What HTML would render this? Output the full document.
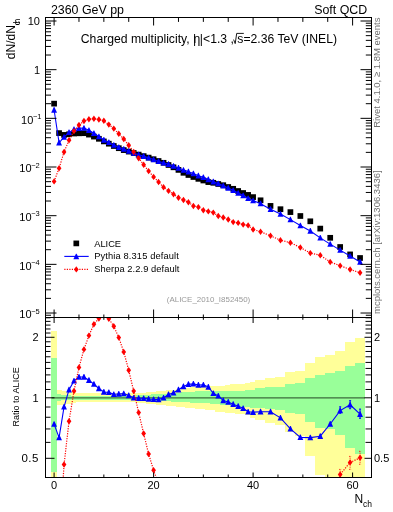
<!DOCTYPE html>
<html><head><meta charset="utf-8"><style>html,body{margin:0;padding:0;background:#fff;width:393px;height:512px;overflow:hidden;position:relative}</style></head>
<body>
<svg width="393" height="512" viewBox="0 0 393 512" style="position:absolute;left:0;top:0;will-change:transform">
<defs><clipPath id="cu"><rect x="45.50" y="17.50" width="326.00" height="300.00"/></clipPath>
<clipPath id="cr"><rect x="45.50" y="317.50" width="326.00" height="160.00"/></clipPath></defs>
<g clip-path="url(#cr)" shape-rendering="crispEdges">
<rect x="51.00" y="331.00" width="6.00" height="149.00" fill="#ffff99"/>
<rect x="51.00" y="358.00" width="6.00" height="113.60" fill="#99ff99"/>
<rect x="57.00" y="390.20" width="5.00" height="15.20" fill="#ffff99"/>
<rect x="57.00" y="394.20" width="5.00" height="6.70" fill="#99ff99"/>
<rect x="61.00" y="390.70" width="5.00" height="14.20" fill="#ffff99"/>
<rect x="61.00" y="394.80" width="5.00" height="5.60" fill="#99ff99"/>
<rect x="66.00" y="391.70" width="5.00" height="12.20" fill="#ffff99"/>
<rect x="66.00" y="395.30" width="5.00" height="4.50" fill="#99ff99"/>
<rect x="71.00" y="392.40" width="5.00" height="10.80" fill="#ffff99"/>
<rect x="71.00" y="395.50" width="5.00" height="4.30" fill="#99ff99"/>
<rect x="76.00" y="393.00" width="5.00" height="9.20" fill="#ffff99"/>
<rect x="76.00" y="395.50" width="5.00" height="4.20" fill="#99ff99"/>
<rect x="81.00" y="393.00" width="5.00" height="9.20" fill="#ffff99"/>
<rect x="81.00" y="395.50" width="5.00" height="4.20" fill="#99ff99"/>
<rect x="86.00" y="393.00" width="5.00" height="9.20" fill="#ffff99"/>
<rect x="86.00" y="395.50" width="5.00" height="4.20" fill="#99ff99"/>
<rect x="91.00" y="393.00" width="5.00" height="9.20" fill="#ffff99"/>
<rect x="91.00" y="395.50" width="5.00" height="4.20" fill="#99ff99"/>
<rect x="96.00" y="393.00" width="5.00" height="9.20" fill="#ffff99"/>
<rect x="96.00" y="395.50" width="5.00" height="4.20" fill="#99ff99"/>
<rect x="101.00" y="393.00" width="5.00" height="9.20" fill="#ffff99"/>
<rect x="101.00" y="395.50" width="5.00" height="4.20" fill="#99ff99"/>
<rect x="106.00" y="393.00" width="5.00" height="9.20" fill="#ffff99"/>
<rect x="106.00" y="395.50" width="5.00" height="4.20" fill="#99ff99"/>
<rect x="111.00" y="393.00" width="5.00" height="9.20" fill="#ffff99"/>
<rect x="111.00" y="395.50" width="5.00" height="4.20" fill="#99ff99"/>
<rect x="116.00" y="393.00" width="5.00" height="9.20" fill="#ffff99"/>
<rect x="116.00" y="395.50" width="5.00" height="4.20" fill="#99ff99"/>
<rect x="121.00" y="393.00" width="5.00" height="9.20" fill="#ffff99"/>
<rect x="121.00" y="395.50" width="5.00" height="4.20" fill="#99ff99"/>
<rect x="126.00" y="393.00" width="5.00" height="9.20" fill="#ffff99"/>
<rect x="126.00" y="395.50" width="5.00" height="4.20" fill="#99ff99"/>
<rect x="131.00" y="393.00" width="5.00" height="9.20" fill="#ffff99"/>
<rect x="131.00" y="395.50" width="5.00" height="4.20" fill="#99ff99"/>
<rect x="136.00" y="393.00" width="5.00" height="9.50" fill="#ffff99"/>
<rect x="136.00" y="395.00" width="5.00" height="5.10" fill="#99ff99"/>
<rect x="141.00" y="392.70" width="5.00" height="10.30" fill="#ffff99"/>
<rect x="141.00" y="394.80" width="5.00" height="5.50" fill="#99ff99"/>
<rect x="146.00" y="392.20" width="5.00" height="11.30" fill="#ffff99"/>
<rect x="146.00" y="394.60" width="5.00" height="5.90" fill="#99ff99"/>
<rect x="151.00" y="391.80" width="5.00" height="12.20" fill="#ffff99"/>
<rect x="151.00" y="394.30" width="5.00" height="6.50" fill="#99ff99"/>
<rect x="156.00" y="391.20" width="5.00" height="13.30" fill="#ffff99"/>
<rect x="156.00" y="394.00" width="5.00" height="7.00" fill="#99ff99"/>
<rect x="161.00" y="390.80" width="5.00" height="14.20" fill="#ffff99"/>
<rect x="161.00" y="393.80" width="5.00" height="7.40" fill="#99ff99"/>
<rect x="166.00" y="390.30" width="5.00" height="15.20" fill="#ffff99"/>
<rect x="166.00" y="393.60" width="5.00" height="7.70" fill="#99ff99"/>
<rect x="171.00" y="389.70" width="5.00" height="16.40" fill="#ffff99"/>
<rect x="171.00" y="393.10" width="5.00" height="8.40" fill="#99ff99"/>
<rect x="176.00" y="389.00" width="5.00" height="17.70" fill="#ffff99"/>
<rect x="176.00" y="392.60" width="5.00" height="9.10" fill="#99ff99"/>
<rect x="181.00" y="388.20" width="4.00" height="19.00" fill="#ffff99"/>
<rect x="181.00" y="392.10" width="4.00" height="9.90" fill="#99ff99"/>
<rect x="185.00" y="387.70" width="5.00" height="19.80" fill="#ffff99"/>
<rect x="185.00" y="391.80" width="5.00" height="10.50" fill="#99ff99"/>
<rect x="190.00" y="387.20" width="5.00" height="20.60" fill="#ffff99"/>
<rect x="190.00" y="391.50" width="5.00" height="11.10" fill="#99ff99"/>
<rect x="195.00" y="386.80" width="5.00" height="21.70" fill="#ffff99"/>
<rect x="195.00" y="391.40" width="5.00" height="11.40" fill="#99ff99"/>
<rect x="200.00" y="386.40" width="5.00" height="22.60" fill="#ffff99"/>
<rect x="200.00" y="391.30" width="5.00" height="11.70" fill="#99ff99"/>
<rect x="205.00" y="386.10" width="5.00" height="23.50" fill="#ffff99"/>
<rect x="205.00" y="391.30" width="5.00" height="12.00" fill="#99ff99"/>
<rect x="210.00" y="385.80" width="5.00" height="24.50" fill="#ffff99"/>
<rect x="210.00" y="391.30" width="5.00" height="12.20" fill="#99ff99"/>
<rect x="215.00" y="385.60" width="5.00" height="25.90" fill="#ffff99"/>
<rect x="215.00" y="391.20" width="5.00" height="12.70" fill="#99ff99"/>
<rect x="220.00" y="385.50" width="5.00" height="26.70" fill="#ffff99"/>
<rect x="220.00" y="391.20" width="5.00" height="13.30" fill="#99ff99"/>
<rect x="225.00" y="385.40" width="5.00" height="27.40" fill="#ffff99"/>
<rect x="225.00" y="391.20" width="5.00" height="14.00" fill="#99ff99"/>
<rect x="230.00" y="384.20" width="5.00" height="28.60" fill="#ffff99"/>
<rect x="230.00" y="391.00" width="5.00" height="14.80" fill="#99ff99"/>
<rect x="235.00" y="384.20" width="5.00" height="29.90" fill="#ffff99"/>
<rect x="235.00" y="390.50" width="5.00" height="15.30" fill="#99ff99"/>
<rect x="240.00" y="383.50" width="5.00" height="30.60" fill="#ffff99"/>
<rect x="240.00" y="390.50" width="5.00" height="16.60" fill="#99ff99"/>
<rect x="245.00" y="383.00" width="5.00" height="32.40" fill="#ffff99"/>
<rect x="245.00" y="389.50" width="5.00" height="17.60" fill="#99ff99"/>
<rect x="250.00" y="381.60" width="5.00" height="36.30" fill="#ffff99"/>
<rect x="250.00" y="389.50" width="5.00" height="18.20" fill="#99ff99"/>
<rect x="255.00" y="379.60" width="10.00" height="40.80" fill="#ffff99"/>
<rect x="255.00" y="388.10" width="10.00" height="20.30" fill="#99ff99"/>
<rect x="265.00" y="377.80" width="10.00" height="44.90" fill="#ffff99"/>
<rect x="265.00" y="387.20" width="10.00" height="21.80" fill="#99ff99"/>
<rect x="275.00" y="377.10" width="10.00" height="47.40" fill="#ffff99"/>
<rect x="275.00" y="386.50" width="10.00" height="23.30" fill="#99ff99"/>
<rect x="285.00" y="372.20" width="10.00" height="60.10" fill="#ffff99"/>
<rect x="285.00" y="383.90" width="10.00" height="29.40" fill="#99ff99"/>
<rect x="295.00" y="371.30" width="10.00" height="64.70" fill="#ffff99"/>
<rect x="295.00" y="383.20" width="10.00" height="30.80" fill="#99ff99"/>
<rect x="305.00" y="363.00" width="10.00" height="92.60" fill="#ffff99"/>
<rect x="305.00" y="378.30" width="10.00" height="43.40" fill="#99ff99"/>
<rect x="315.00" y="356.90" width="10.00" height="117.70" fill="#ffff99"/>
<rect x="315.00" y="374.80" width="10.00" height="52.90" fill="#99ff99"/>
<rect x="325.00" y="355.00" width="10.00" height="125.00" fill="#ffff99"/>
<rect x="325.00" y="372.50" width="10.00" height="56.00" fill="#99ff99"/>
<rect x="335.00" y="351.10" width="10.00" height="128.90" fill="#ffff99"/>
<rect x="335.00" y="370.80" width="10.00" height="63.80" fill="#99ff99"/>
<rect x="345.00" y="342.00" width="10.00" height="138.00" fill="#ffff99"/>
<rect x="345.00" y="365.60" width="10.00" height="82.80" fill="#99ff99"/>
<rect x="355.00" y="338.00" width="10.00" height="142.00" fill="#ffff99"/>
<rect x="355.00" y="363.10" width="10.00" height="91.10" fill="#99ff99"/>
</g>
<line x1="51.61" y1="397.8" x2="365.04" y2="397.8" stroke="#3d6b3d" stroke-width="1.2"/>
<g clip-path="url(#cr)">
<path d="M54.10 424.10 L59.08 437.60 L64.05 406.80 L69.03 389.70 L74.00 380.90 L78.97 377.00 L83.95 377.00 L88.92 380.20 L93.90 384.10 L98.88 388.50 L103.85 392.00 L108.82 392.40 L113.80 394.30 L118.78 394.00 L123.75 393.60 L128.72 395.50 L133.70 397.80 L138.67 398.20 L143.65 398.30 L148.62 399.00 L153.60 399.40 L158.57 399.50 L163.55 397.80 L168.53 394.50 L173.50 392.80 L178.47 389.70 L183.45 386.50 L188.42 384.20 L193.40 383.90 L198.37 385.00 L203.35 384.80 L208.32 387.00 L213.30 393.30 L218.27 395.90 L223.25 400.50 L228.22 402.00 L233.20 404.20 L238.17 406.20 L243.15 408.30 L248.12 411.80 L253.10 412.20 L260.56 411.70 L270.51 411.70 L280.46 417.90 L290.41 428.80 L300.36 437.40 L310.31 437.60 L320.26 436.20 L330.21 424.00 L340.16 410.60 L350.11 404.80 L360.06 414.20" fill="none" stroke="#0000ff" stroke-width="1.1"/>
<path d="M53.75 421.20L54.45 421.20L57.00 426.80L51.20 426.80Z" fill="#0000ff"/>
<path d="M58.73 434.70L59.43 434.70L61.98 440.30L56.18 440.30Z" fill="#0000ff"/>
<path d="M63.70 403.90L64.40 403.90L66.95 409.50L61.15 409.50Z" fill="#0000ff"/>
<path d="M68.68 386.80L69.38 386.80L71.93 392.40L66.12 392.40Z" fill="#0000ff"/>
<path d="M73.65 378.00L74.35 378.00L76.90 383.60L71.10 383.60Z" fill="#0000ff"/>
<path d="M78.62 374.10L79.32 374.10L81.88 379.70L76.07 379.70Z" fill="#0000ff"/>
<path d="M83.60 374.10L84.30 374.10L86.85 379.70L81.05 379.70Z" fill="#0000ff"/>
<path d="M88.58 377.30L89.27 377.30L91.83 382.90L86.02 382.90Z" fill="#0000ff"/>
<path d="M93.55 381.20L94.25 381.20L96.80 386.80L91.00 386.80Z" fill="#0000ff"/>
<path d="M98.53 385.60L99.22 385.60L101.78 391.20L95.97 391.20Z" fill="#0000ff"/>
<path d="M103.50 389.10L104.20 389.10L106.75 394.70L100.95 394.70Z" fill="#0000ff"/>
<path d="M108.47 389.50L109.17 389.50L111.72 395.10L105.92 395.10Z" fill="#0000ff"/>
<path d="M113.45 391.40L114.15 391.40L116.70 397.00L110.90 397.00Z" fill="#0000ff"/>
<path d="M118.43 391.10L119.12 391.10L121.68 396.70L115.88 396.70Z" fill="#0000ff"/>
<path d="M123.40 390.70L124.10 390.70L126.65 396.30L120.85 396.30Z" fill="#0000ff"/>
<path d="M128.38 392.60L129.07 392.60L131.62 398.20L125.82 398.20Z" fill="#0000ff"/>
<path d="M133.35 394.90L134.05 394.90L136.60 400.50L130.80 400.50Z" fill="#0000ff"/>
<path d="M138.32 395.30L139.02 395.30L141.57 400.90L135.77 400.90Z" fill="#0000ff"/>
<path d="M143.30 395.40L144.00 395.40L146.55 401.00L140.75 401.00Z" fill="#0000ff"/>
<path d="M148.28 396.10L148.97 396.10L151.53 401.70L145.72 401.70Z" fill="#0000ff"/>
<path d="M153.25 396.50L153.95 396.50L156.50 402.10L150.70 402.10Z" fill="#0000ff"/>
<path d="M158.22 396.60L158.92 396.60L161.47 402.20L155.67 402.20Z" fill="#0000ff"/>
<path d="M163.20 394.90L163.90 394.90L166.45 400.50L160.65 400.50Z" fill="#0000ff"/>
<path d="M168.18 391.60L168.88 391.60L171.43 397.20L165.62 397.20Z" fill="#0000ff"/>
<path d="M173.15 389.90L173.85 389.90L176.40 395.50L170.60 395.50Z" fill="#0000ff"/>
<path d="M178.12 386.80L178.82 386.80L181.38 392.40L175.57 392.40Z" fill="#0000ff"/>
<path d="M183.10 383.60L183.80 383.60L186.35 389.20L180.55 389.20Z" fill="#0000ff"/>
<path d="M188.07 381.30L188.77 381.30L191.32 386.90L185.52 386.90Z" fill="#0000ff"/>
<path d="M193.05 381.00L193.75 381.00L196.30 386.60L190.50 386.60Z" fill="#0000ff"/>
<path d="M198.02 382.10L198.72 382.10L201.27 387.70L195.47 387.70Z" fill="#0000ff"/>
<path d="M203.00 381.90L203.70 381.90L206.25 387.50L200.45 387.50Z" fill="#0000ff"/>
<path d="M207.97 384.10L208.67 384.10L211.22 389.70L205.42 389.70Z" fill="#0000ff"/>
<path d="M212.95 390.40L213.65 390.40L216.20 396.00L210.40 396.00Z" fill="#0000ff"/>
<path d="M217.92 393.00L218.62 393.00L221.17 398.60L215.37 398.60Z" fill="#0000ff"/>
<path d="M222.90 397.60L223.60 397.60L226.15 403.20L220.35 403.20Z" fill="#0000ff"/>
<path d="M227.88 399.10L228.57 399.10L231.12 404.70L225.32 404.70Z" fill="#0000ff"/>
<path d="M232.85 401.30L233.55 401.30L236.10 406.90L230.30 406.90Z" fill="#0000ff"/>
<path d="M237.82 403.30L238.52 403.30L241.07 408.90L235.27 408.90Z" fill="#0000ff"/>
<path d="M242.80 405.40L243.50 405.40L246.05 411.00L240.25 411.00Z" fill="#0000ff"/>
<path d="M247.77 408.90L248.47 408.90L251.02 414.50L245.22 414.50Z" fill="#0000ff"/>
<path d="M252.75 409.30L253.45 409.30L256.00 414.90L250.20 414.90Z" fill="#0000ff"/>
<path d="M260.21 408.80L260.91 408.80L263.46 414.40L257.66 414.40Z" fill="#0000ff"/>
<path d="M270.16 408.80L270.86 408.80L273.41 414.40L267.61 414.40Z" fill="#0000ff"/>
<path d="M280.11 415.00L280.81 415.00L283.36 420.60L277.56 420.60Z" fill="#0000ff"/>
<path d="M290.06 425.90L290.76 425.90L293.31 431.50L287.51 431.50Z" fill="#0000ff"/>
<path d="M300.01 434.50L300.71 434.50L303.26 440.10L297.46 440.10Z" fill="#0000ff"/>
<path d="M309.96 434.70L310.66 434.70L313.21 440.30L307.41 440.30Z" fill="#0000ff"/>
<path d="M319.91 433.30L320.61 433.30L323.16 438.90L317.36 438.90Z" fill="#0000ff"/>
<path d="M329.86 421.10L330.56 421.10L333.11 426.70L327.31 426.70Z" fill="#0000ff"/>
<path d="M339.81 407.70L340.51 407.70L343.06 413.30L337.26 413.30Z" fill="#0000ff"/>
<path d="M349.76 401.90L350.46 401.90L353.01 407.50L347.21 407.50Z" fill="#0000ff"/>
<path d="M359.71 411.30L360.41 411.30L362.96 416.90L357.16 416.90Z" fill="#0000ff"/>
<path d="M340.16 406.80L340.16 413.30 M339.16 406.80L341.16 406.80 M339.16 413.30L341.16 413.30 M350.11 400.70L350.11 408.70 M349.11 400.70L351.11 400.70 M349.11 408.70L351.11 408.70 M360.06 409.10L360.06 418.30 M359.06 409.10L361.06 409.10 M359.06 418.30L361.06 418.30" stroke="#0000ff" stroke-width="1" fill="none"/>
<path d="M54.10 718.90 L59.08 542.76 L64.05 464.50 L69.03 421.30 L74.00 391.00 L78.97 367.40 L83.95 349.40 L88.92 335.60 L93.90 324.20 L98.88 318.50 L103.85 312.73 L108.82 318.80 L113.80 326.20 L118.78 337.60 L123.75 351.90 L128.72 370.30 L133.70 391.10 L138.67 412.60 L143.65 433.50 L148.62 454.00 L153.60 470.20 L158.57 484.53 L163.55 498.57 L168.53 504.76 L173.50 508.89 L178.47 512.61 L183.45 510.13 L188.42 510.55 L193.40 517.57 L198.37 514.47 L203.35 520.46 L208.32 518.80 L213.30 520.87 L218.27 529.96 L223.25 531.19 L228.22 532.02 L233.20 535.32 L238.17 529.54 L243.15 528.30 L248.12 523.76 L253.10 531.61 L260.56 527.48 L270.51 521.28 L280.46 525.83 L290.41 524.17 L300.36 527.89 L310.31 529.13 L320.26 508.07 L330.21 497.74 L340.16 474.50 L350.11 462.40 L360.06 457.80" fill="none" stroke="#ff0000" stroke-width="1.2" stroke-dasharray="1.2 1.3"/>
<path d="M54.10 715.70L56.45 718.90L54.10 722.10L51.75 718.90Z" fill="#ff0000"/>
<path d="M59.08 539.56L61.43 542.76L59.08 545.96L56.73 542.76Z" fill="#ff0000"/>
<path d="M64.05 461.30L66.40 464.50L64.05 467.70L61.70 464.50Z" fill="#ff0000"/>
<path d="M69.03 418.10L71.38 421.30L69.03 424.50L66.68 421.30Z" fill="#ff0000"/>
<path d="M74.00 387.80L76.35 391.00L74.00 394.20L71.65 391.00Z" fill="#ff0000"/>
<path d="M78.97 364.20L81.32 367.40L78.97 370.60L76.62 367.40Z" fill="#ff0000"/>
<path d="M83.95 346.20L86.30 349.40L83.95 352.60L81.60 349.40Z" fill="#ff0000"/>
<path d="M88.92 332.40L91.27 335.60L88.92 338.80L86.58 335.60Z" fill="#ff0000"/>
<path d="M93.90 321.00L96.25 324.20L93.90 327.40L91.55 324.20Z" fill="#ff0000"/>
<path d="M98.88 315.30L101.22 318.50L98.88 321.70L96.53 318.50Z" fill="#ff0000"/>
<path d="M103.85 309.53L106.20 312.73L103.85 315.93L101.50 312.73Z" fill="#ff0000"/>
<path d="M108.82 315.60L111.17 318.80L108.82 322.00L106.47 318.80Z" fill="#ff0000"/>
<path d="M113.80 323.00L116.15 326.20L113.80 329.40L111.45 326.20Z" fill="#ff0000"/>
<path d="M118.78 334.40L121.12 337.60L118.78 340.80L116.43 337.60Z" fill="#ff0000"/>
<path d="M123.75 348.70L126.10 351.90L123.75 355.10L121.40 351.90Z" fill="#ff0000"/>
<path d="M128.72 367.10L131.07 370.30L128.72 373.50L126.38 370.30Z" fill="#ff0000"/>
<path d="M133.70 387.90L136.05 391.10L133.70 394.30L131.35 391.10Z" fill="#ff0000"/>
<path d="M138.67 409.40L141.02 412.60L138.67 415.80L136.32 412.60Z" fill="#ff0000"/>
<path d="M143.65 430.30L146.00 433.50L143.65 436.70L141.30 433.50Z" fill="#ff0000"/>
<path d="M148.62 450.80L150.97 454.00L148.62 457.20L146.28 454.00Z" fill="#ff0000"/>
<path d="M153.60 467.00L155.95 470.20L153.60 473.40L151.25 470.20Z" fill="#ff0000"/>
<path d="M158.57 481.33L160.92 484.53L158.57 487.73L156.22 484.53Z" fill="#ff0000"/>
<path d="M163.55 495.37L165.90 498.57L163.55 501.77L161.20 498.57Z" fill="#ff0000"/>
<path d="M168.53 501.56L170.88 504.76L168.53 507.96L166.18 504.76Z" fill="#ff0000"/>
<path d="M173.50 505.69L175.85 508.89L173.50 512.09L171.15 508.89Z" fill="#ff0000"/>
<path d="M178.47 509.41L180.82 512.61L178.47 515.81L176.12 512.61Z" fill="#ff0000"/>
<path d="M183.45 506.93L185.80 510.13L183.45 513.33L181.10 510.13Z" fill="#ff0000"/>
<path d="M188.42 507.35L190.77 510.55L188.42 513.75L186.07 510.55Z" fill="#ff0000"/>
<path d="M193.40 514.37L195.75 517.57L193.40 520.77L191.05 517.57Z" fill="#ff0000"/>
<path d="M198.37 511.27L200.72 514.47L198.37 517.67L196.02 514.47Z" fill="#ff0000"/>
<path d="M203.35 517.26L205.70 520.46L203.35 523.66L201.00 520.46Z" fill="#ff0000"/>
<path d="M208.32 515.60L210.67 518.80L208.32 522.00L205.97 518.80Z" fill="#ff0000"/>
<path d="M213.30 517.67L215.65 520.87L213.30 524.07L210.95 520.87Z" fill="#ff0000"/>
<path d="M218.27 526.76L220.62 529.96L218.27 533.16L215.92 529.96Z" fill="#ff0000"/>
<path d="M223.25 527.99L225.60 531.19L223.25 534.39L220.90 531.19Z" fill="#ff0000"/>
<path d="M228.22 528.82L230.57 532.02L228.22 535.22L225.88 532.02Z" fill="#ff0000"/>
<path d="M233.20 532.12L235.55 535.32L233.20 538.52L230.85 535.32Z" fill="#ff0000"/>
<path d="M238.17 526.34L240.52 529.54L238.17 532.74L235.82 529.54Z" fill="#ff0000"/>
<path d="M243.15 525.10L245.50 528.30L243.15 531.50L240.80 528.30Z" fill="#ff0000"/>
<path d="M248.12 520.56L250.47 523.76L248.12 526.96L245.77 523.76Z" fill="#ff0000"/>
<path d="M253.10 528.41L255.45 531.61L253.10 534.81L250.75 531.61Z" fill="#ff0000"/>
<path d="M260.56 524.28L262.91 527.48L260.56 530.68L258.21 527.48Z" fill="#ff0000"/>
<path d="M270.51 518.08L272.86 521.28L270.51 524.48L268.16 521.28Z" fill="#ff0000"/>
<path d="M280.46 522.63L282.81 525.83L280.46 529.03L278.11 525.83Z" fill="#ff0000"/>
<path d="M290.41 520.97L292.76 524.17L290.41 527.37L288.06 524.17Z" fill="#ff0000"/>
<path d="M300.36 524.69L302.71 527.89L300.36 531.09L298.01 527.89Z" fill="#ff0000"/>
<path d="M310.31 525.93L312.66 529.13L310.31 532.33L307.96 529.13Z" fill="#ff0000"/>
<path d="M320.26 504.87L322.61 508.07L320.26 511.27L317.91 508.07Z" fill="#ff0000"/>
<path d="M330.21 494.54L332.56 497.74L330.21 500.94L327.86 497.74Z" fill="#ff0000"/>
<path d="M340.16 471.30L342.51 474.50L340.16 477.70L337.81 474.50Z" fill="#ff0000"/>
<path d="M350.11 459.20L352.46 462.40L350.11 465.60L347.76 462.40Z" fill="#ff0000"/>
<path d="M360.06 454.60L362.41 457.80L360.06 461.00L357.71 457.80Z" fill="#ff0000"/>
<path d="M340.16 469.40L340.16 478.50 M339.16 469.40L341.16 469.40 M339.16 478.50L341.16 478.50 M350.11 456.40L350.11 469.40 M349.11 456.40L351.11 456.40 M349.11 469.40L351.11 469.40 M360.06 451.30L360.06 464.30 M359.06 451.30L361.06 451.30 M359.06 464.30L361.06 464.30" stroke="#ff0000" stroke-width="0.8" stroke-dasharray="1 0.8" fill="none"/>
</g>
<g clip-path="url(#cu)">
<rect x="51.25" y="100.80" width="5.70" height="5.70" fill="#000"/>
<rect x="56.23" y="130.25" width="5.70" height="5.70" fill="#000"/>
<rect x="61.20" y="132.05" width="5.70" height="5.70" fill="#000"/>
<rect x="66.18" y="131.45" width="5.70" height="5.70" fill="#000"/>
<rect x="71.15" y="130.65" width="5.70" height="5.70" fill="#000"/>
<rect x="76.12" y="130.45" width="5.70" height="5.70" fill="#000"/>
<rect x="81.10" y="130.35" width="5.70" height="5.70" fill="#000"/>
<rect x="86.08" y="131.75" width="5.70" height="5.70" fill="#000"/>
<rect x="91.05" y="133.75" width="5.70" height="5.70" fill="#000"/>
<rect x="96.03" y="135.95" width="5.70" height="5.70" fill="#000"/>
<rect x="101.00" y="138.55" width="5.70" height="5.70" fill="#000"/>
<rect x="105.97" y="140.85" width="5.70" height="5.70" fill="#000"/>
<rect x="110.95" y="143.15" width="5.70" height="5.70" fill="#000"/>
<rect x="115.93" y="145.35" width="5.70" height="5.70" fill="#000"/>
<rect x="120.90" y="147.25" width="5.70" height="5.70" fill="#000"/>
<rect x="125.88" y="148.75" width="5.70" height="5.70" fill="#000"/>
<rect x="130.85" y="150.15" width="5.70" height="5.70" fill="#000"/>
<rect x="135.82" y="151.75" width="5.70" height="5.70" fill="#000"/>
<rect x="140.80" y="153.25" width="5.70" height="5.70" fill="#000"/>
<rect x="145.78" y="154.75" width="5.70" height="5.70" fill="#000"/>
<rect x="150.75" y="156.35" width="5.70" height="5.70" fill="#000"/>
<rect x="155.72" y="158.15" width="5.70" height="5.70" fill="#000"/>
<rect x="160.70" y="159.95" width="5.70" height="5.70" fill="#000"/>
<rect x="165.68" y="162.15" width="5.70" height="5.70" fill="#000"/>
<rect x="170.65" y="164.45" width="5.70" height="5.70" fill="#000"/>
<rect x="175.62" y="167.05" width="5.70" height="5.70" fill="#000"/>
<rect x="180.60" y="169.95" width="5.70" height="5.70" fill="#000"/>
<rect x="185.57" y="172.15" width="5.70" height="5.70" fill="#000"/>
<rect x="190.55" y="174.15" width="5.70" height="5.70" fill="#000"/>
<rect x="195.52" y="176.00" width="5.70" height="5.70" fill="#000"/>
<rect x="200.50" y="177.65" width="5.70" height="5.70" fill="#000"/>
<rect x="205.47" y="179.25" width="5.70" height="5.70" fill="#000"/>
<rect x="210.45" y="179.95" width="5.70" height="5.70" fill="#000"/>
<rect x="215.42" y="181.15" width="5.70" height="5.70" fill="#000"/>
<rect x="220.40" y="182.35" width="5.70" height="5.70" fill="#000"/>
<rect x="225.38" y="184.15" width="5.70" height="5.70" fill="#000"/>
<rect x="230.35" y="185.95" width="5.70" height="5.70" fill="#000"/>
<rect x="235.32" y="188.15" width="5.70" height="5.70" fill="#000"/>
<rect x="240.30" y="190.15" width="5.70" height="5.70" fill="#000"/>
<rect x="245.27" y="192.05" width="5.70" height="5.70" fill="#000"/>
<rect x="250.25" y="194.25" width="5.70" height="5.70" fill="#000"/>
<rect x="257.71" y="197.45" width="5.70" height="5.70" fill="#000"/>
<rect x="267.66" y="203.05" width="5.70" height="5.70" fill="#000"/>
<rect x="277.61" y="206.35" width="5.70" height="5.70" fill="#000"/>
<rect x="287.56" y="209.25" width="5.70" height="5.70" fill="#000"/>
<rect x="297.51" y="213.15" width="5.70" height="5.70" fill="#000"/>
<rect x="307.46" y="218.45" width="5.70" height="5.70" fill="#000"/>
<rect x="317.41" y="225.75" width="5.70" height="5.70" fill="#000"/>
<rect x="327.36" y="234.95" width="5.70" height="5.70" fill="#000"/>
<rect x="337.31" y="244.15" width="5.70" height="5.70" fill="#000"/>
<rect x="347.26" y="251.55" width="5.70" height="5.70" fill="#000"/>
<rect x="357.21" y="255.15" width="5.70" height="5.70" fill="#000"/>
<path d="M54.10 110.02 L59.08 142.74 L64.05 137.08 L69.03 132.34 L74.00 129.41 L78.97 128.26 L83.95 128.16 L88.92 130.34 L93.90 133.28 L98.88 136.55 L103.85 140.00 L108.82 142.39 L113.80 145.15 L118.78 147.28 L123.75 149.08 L128.72 151.04 L133.70 153.00 L138.67 154.70 L143.65 156.22 L148.62 157.89 L153.60 159.59 L158.57 161.41 L163.55 162.80 L168.53 164.20 L173.50 166.09 L178.47 167.94 L183.45 170.06 L188.42 171.71 L193.40 173.63 L198.37 175.75 L203.35 177.35 L208.32 179.48 L213.30 181.71 L218.27 183.54 L223.25 185.85 L228.22 188.02 L233.20 190.35 L238.17 193.03 L243.15 195.54 L248.12 198.29 L253.10 200.59 L260.56 203.67 L270.51 209.27 L280.46 214.07 L290.41 219.61 L300.36 225.59 L310.31 230.94 L320.26 237.90 L330.21 244.14 L340.16 250.10 L350.11 256.09 L360.06 261.97" fill="none" stroke="#0000ff" stroke-width="1.1"/>
<path d="M53.75 107.12L54.45 107.12L57.00 112.72L51.20 112.72Z" fill="#0000ff"/>
<path d="M58.73 139.84L59.43 139.84L61.98 145.44L56.18 145.44Z" fill="#0000ff"/>
<path d="M63.70 134.18L64.40 134.18L66.95 139.78L61.15 139.78Z" fill="#0000ff"/>
<path d="M68.68 129.44L69.38 129.44L71.93 135.04L66.12 135.04Z" fill="#0000ff"/>
<path d="M73.65 126.51L74.35 126.51L76.90 132.11L71.10 132.11Z" fill="#0000ff"/>
<path d="M78.62 125.36L79.32 125.36L81.88 130.96L76.07 130.96Z" fill="#0000ff"/>
<path d="M83.60 125.26L84.30 125.26L86.85 130.86L81.05 130.86Z" fill="#0000ff"/>
<path d="M88.58 127.44L89.27 127.44L91.83 133.04L86.02 133.04Z" fill="#0000ff"/>
<path d="M93.55 130.38L94.25 130.38L96.80 135.98L91.00 135.98Z" fill="#0000ff"/>
<path d="M98.53 133.65L99.22 133.65L101.78 139.25L95.97 139.25Z" fill="#0000ff"/>
<path d="M103.50 137.10L104.20 137.10L106.75 142.70L100.95 142.70Z" fill="#0000ff"/>
<path d="M108.47 139.49L109.17 139.49L111.72 145.09L105.92 145.09Z" fill="#0000ff"/>
<path d="M113.45 142.25L114.15 142.25L116.70 147.85L110.90 147.85Z" fill="#0000ff"/>
<path d="M118.43 144.38L119.12 144.38L121.68 149.98L115.88 149.98Z" fill="#0000ff"/>
<path d="M123.40 146.18L124.10 146.18L126.65 151.78L120.85 151.78Z" fill="#0000ff"/>
<path d="M128.38 148.14L129.07 148.14L131.62 153.74L125.82 153.74Z" fill="#0000ff"/>
<path d="M133.35 150.10L134.05 150.10L136.60 155.70L130.80 155.70Z" fill="#0000ff"/>
<path d="M138.32 151.80L139.02 151.80L141.57 157.40L135.77 157.40Z" fill="#0000ff"/>
<path d="M143.30 153.32L144.00 153.32L146.55 158.92L140.75 158.92Z" fill="#0000ff"/>
<path d="M148.28 154.99L148.97 154.99L151.53 160.59L145.72 160.59Z" fill="#0000ff"/>
<path d="M153.25 156.69L153.95 156.69L156.50 162.29L150.70 162.29Z" fill="#0000ff"/>
<path d="M158.22 158.51L158.92 158.51L161.47 164.11L155.67 164.11Z" fill="#0000ff"/>
<path d="M163.20 159.90L163.90 159.90L166.45 165.50L160.65 165.50Z" fill="#0000ff"/>
<path d="M168.18 161.30L168.88 161.30L171.43 166.90L165.62 166.90Z" fill="#0000ff"/>
<path d="M173.15 163.19L173.85 163.19L176.40 168.79L170.60 168.79Z" fill="#0000ff"/>
<path d="M178.12 165.04L178.82 165.04L181.38 170.64L175.57 170.64Z" fill="#0000ff"/>
<path d="M183.10 167.16L183.80 167.16L186.35 172.76L180.55 172.76Z" fill="#0000ff"/>
<path d="M188.07 168.81L188.77 168.81L191.32 174.41L185.52 174.41Z" fill="#0000ff"/>
<path d="M193.05 170.73L193.75 170.73L196.30 176.33L190.50 176.33Z" fill="#0000ff"/>
<path d="M198.02 172.85L198.72 172.85L201.27 178.45L195.47 178.45Z" fill="#0000ff"/>
<path d="M203.00 174.45L203.70 174.45L206.25 180.05L200.45 180.05Z" fill="#0000ff"/>
<path d="M207.97 176.58L208.67 176.58L211.22 182.18L205.42 182.18Z" fill="#0000ff"/>
<path d="M212.95 178.81L213.65 178.81L216.20 184.41L210.40 184.41Z" fill="#0000ff"/>
<path d="M217.92 180.64L218.62 180.64L221.17 186.24L215.37 186.24Z" fill="#0000ff"/>
<path d="M222.90 182.95L223.60 182.95L226.15 188.55L220.35 188.55Z" fill="#0000ff"/>
<path d="M227.88 185.12L228.57 185.12L231.12 190.72L225.32 190.72Z" fill="#0000ff"/>
<path d="M232.85 187.45L233.55 187.45L236.10 193.05L230.30 193.05Z" fill="#0000ff"/>
<path d="M237.82 190.13L238.52 190.13L241.07 195.73L235.27 195.73Z" fill="#0000ff"/>
<path d="M242.80 192.64L243.50 192.64L246.05 198.24L240.25 198.24Z" fill="#0000ff"/>
<path d="M247.77 195.39L248.47 195.39L251.02 200.99L245.22 200.99Z" fill="#0000ff"/>
<path d="M252.75 197.69L253.45 197.69L256.00 203.29L250.20 203.29Z" fill="#0000ff"/>
<path d="M260.21 200.77L260.91 200.77L263.46 206.37L257.66 206.37Z" fill="#0000ff"/>
<path d="M270.16 206.37L270.86 206.37L273.41 211.97L267.61 211.97Z" fill="#0000ff"/>
<path d="M280.11 211.17L280.81 211.17L283.36 216.77L277.56 216.77Z" fill="#0000ff"/>
<path d="M290.06 216.71L290.76 216.71L293.31 222.31L287.51 222.31Z" fill="#0000ff"/>
<path d="M300.01 222.69L300.71 222.69L303.26 228.29L297.46 228.29Z" fill="#0000ff"/>
<path d="M309.96 228.04L310.66 228.04L313.21 233.64L307.41 233.64Z" fill="#0000ff"/>
<path d="M319.91 235.00L320.61 235.00L323.16 240.60L317.36 240.60Z" fill="#0000ff"/>
<path d="M329.86 241.24L330.56 241.24L333.11 246.84L327.31 246.84Z" fill="#0000ff"/>
<path d="M339.81 247.20L340.51 247.20L343.06 252.80L337.26 252.80Z" fill="#0000ff"/>
<path d="M349.76 253.19L350.46 253.19L353.01 258.79L347.21 258.79Z" fill="#0000ff"/>
<path d="M359.71 259.07L360.41 259.07L362.96 264.67L357.16 264.67Z" fill="#0000ff"/>
<path d="M54.10 181.40 L59.08 168.20 L64.05 152.00 L69.03 140.20 L74.00 131.10 L78.97 125.00 L83.95 121.00 L88.92 119.20 L93.90 118.80 L98.88 119.50 L103.85 120.80 L108.82 124.60 L113.80 128.60 L118.78 133.70 L123.75 139.00 L128.72 145.30 L133.70 151.90 L138.67 158.20 L143.65 164.80 L148.62 171.10 L153.60 176.90 L158.57 182.00 L163.55 187.20 L168.53 190.90 L173.50 194.20 L178.47 197.70 L183.45 200.00 L188.42 202.30 L193.40 206.00 L198.37 207.10 L203.35 210.20 L208.32 211.40 L213.30 212.60 L218.27 216.00 L223.25 217.50 L228.22 219.50 L233.20 222.10 L238.17 222.90 L243.15 224.60 L248.12 225.40 L253.10 229.50 L260.56 231.70 L270.51 235.80 L280.46 240.20 L290.41 242.70 L300.36 247.50 L310.31 253.10 L320.26 255.30 L330.21 262.00 L340.16 265.70 L350.11 269.50 L360.06 272.70" fill="none" stroke="#ff0000" stroke-width="1.2" stroke-dasharray="1.2 1.3"/>
<path d="M54.10 178.20L56.45 181.40L54.10 184.60L51.75 181.40Z" fill="#ff0000"/>
<path d="M59.08 165.00L61.43 168.20L59.08 171.40L56.73 168.20Z" fill="#ff0000"/>
<path d="M64.05 148.80L66.40 152.00L64.05 155.20L61.70 152.00Z" fill="#ff0000"/>
<path d="M69.03 137.00L71.38 140.20L69.03 143.40L66.68 140.20Z" fill="#ff0000"/>
<path d="M74.00 127.90L76.35 131.10L74.00 134.30L71.65 131.10Z" fill="#ff0000"/>
<path d="M78.97 121.80L81.32 125.00L78.97 128.20L76.62 125.00Z" fill="#ff0000"/>
<path d="M83.95 117.80L86.30 121.00L83.95 124.20L81.60 121.00Z" fill="#ff0000"/>
<path d="M88.92 116.00L91.27 119.20L88.92 122.40L86.58 119.20Z" fill="#ff0000"/>
<path d="M93.90 115.60L96.25 118.80L93.90 122.00L91.55 118.80Z" fill="#ff0000"/>
<path d="M98.88 116.30L101.22 119.50L98.88 122.70L96.53 119.50Z" fill="#ff0000"/>
<path d="M103.85 117.60L106.20 120.80L103.85 124.00L101.50 120.80Z" fill="#ff0000"/>
<path d="M108.82 121.40L111.17 124.60L108.82 127.80L106.47 124.60Z" fill="#ff0000"/>
<path d="M113.80 125.40L116.15 128.60L113.80 131.80L111.45 128.60Z" fill="#ff0000"/>
<path d="M118.78 130.50L121.12 133.70L118.78 136.90L116.43 133.70Z" fill="#ff0000"/>
<path d="M123.75 135.80L126.10 139.00L123.75 142.20L121.40 139.00Z" fill="#ff0000"/>
<path d="M128.72 142.10L131.07 145.30L128.72 148.50L126.38 145.30Z" fill="#ff0000"/>
<path d="M133.70 148.70L136.05 151.90L133.70 155.10L131.35 151.90Z" fill="#ff0000"/>
<path d="M138.67 155.00L141.02 158.20L138.67 161.40L136.32 158.20Z" fill="#ff0000"/>
<path d="M143.65 161.60L146.00 164.80L143.65 168.00L141.30 164.80Z" fill="#ff0000"/>
<path d="M148.62 167.90L150.97 171.10L148.62 174.30L146.28 171.10Z" fill="#ff0000"/>
<path d="M153.60 173.70L155.95 176.90L153.60 180.10L151.25 176.90Z" fill="#ff0000"/>
<path d="M158.57 178.80L160.92 182.00L158.57 185.20L156.22 182.00Z" fill="#ff0000"/>
<path d="M163.55 184.00L165.90 187.20L163.55 190.40L161.20 187.20Z" fill="#ff0000"/>
<path d="M168.53 187.70L170.88 190.90L168.53 194.10L166.18 190.90Z" fill="#ff0000"/>
<path d="M173.50 191.00L175.85 194.20L173.50 197.40L171.15 194.20Z" fill="#ff0000"/>
<path d="M178.47 194.50L180.82 197.70L178.47 200.90L176.12 197.70Z" fill="#ff0000"/>
<path d="M183.45 196.80L185.80 200.00L183.45 203.20L181.10 200.00Z" fill="#ff0000"/>
<path d="M188.42 199.10L190.77 202.30L188.42 205.50L186.07 202.30Z" fill="#ff0000"/>
<path d="M193.40 202.80L195.75 206.00L193.40 209.20L191.05 206.00Z" fill="#ff0000"/>
<path d="M198.37 203.90L200.72 207.10L198.37 210.30L196.02 207.10Z" fill="#ff0000"/>
<path d="M203.35 207.00L205.70 210.20L203.35 213.40L201.00 210.20Z" fill="#ff0000"/>
<path d="M208.32 208.20L210.67 211.40L208.32 214.60L205.97 211.40Z" fill="#ff0000"/>
<path d="M213.30 209.40L215.65 212.60L213.30 215.80L210.95 212.60Z" fill="#ff0000"/>
<path d="M218.27 212.80L220.62 216.00L218.27 219.20L215.92 216.00Z" fill="#ff0000"/>
<path d="M223.25 214.30L225.60 217.50L223.25 220.70L220.90 217.50Z" fill="#ff0000"/>
<path d="M228.22 216.30L230.57 219.50L228.22 222.70L225.88 219.50Z" fill="#ff0000"/>
<path d="M233.20 218.90L235.55 222.10L233.20 225.30L230.85 222.10Z" fill="#ff0000"/>
<path d="M238.17 219.70L240.52 222.90L238.17 226.10L235.82 222.90Z" fill="#ff0000"/>
<path d="M243.15 221.40L245.50 224.60L243.15 227.80L240.80 224.60Z" fill="#ff0000"/>
<path d="M248.12 222.20L250.47 225.40L248.12 228.60L245.77 225.40Z" fill="#ff0000"/>
<path d="M253.10 226.30L255.45 229.50L253.10 232.70L250.75 229.50Z" fill="#ff0000"/>
<path d="M260.56 228.50L262.91 231.70L260.56 234.90L258.21 231.70Z" fill="#ff0000"/>
<path d="M270.51 232.60L272.86 235.80L270.51 239.00L268.16 235.80Z" fill="#ff0000"/>
<path d="M280.46 237.00L282.81 240.20L280.46 243.40L278.11 240.20Z" fill="#ff0000"/>
<path d="M290.41 239.50L292.76 242.70L290.41 245.90L288.06 242.70Z" fill="#ff0000"/>
<path d="M300.36 244.30L302.71 247.50L300.36 250.70L298.01 247.50Z" fill="#ff0000"/>
<path d="M310.31 249.90L312.66 253.10L310.31 256.30L307.96 253.10Z" fill="#ff0000"/>
<path d="M320.26 252.10L322.61 255.30L320.26 258.50L317.91 255.30Z" fill="#ff0000"/>
<path d="M330.21 258.80L332.56 262.00L330.21 265.20L327.86 262.00Z" fill="#ff0000"/>
<path d="M340.16 262.50L342.51 265.70L340.16 268.90L337.81 265.70Z" fill="#ff0000"/>
<path d="M350.11 266.30L352.46 269.50L350.11 272.70L347.76 269.50Z" fill="#ff0000"/>
<path d="M360.06 269.50L362.41 272.70L360.06 275.90L357.71 272.70Z" fill="#ff0000"/>
</g>
<g fill="none" stroke="#000" stroke-width="1">
<rect x="45.50" y="17.50" width="326.00" height="300.00"/>
<rect x="45.50" y="317.50" width="326.00" height="160.00"/>
</g>
<path d="M54.10 17.50L54.10 25.50 M54.10 317.50L54.10 309.50 M54.10 317.50L54.10 323.00 M54.10 477.50L54.10 472.50 M78.97 17.50L78.97 21.90 M78.97 317.50L78.97 314.50 M78.97 317.50L78.97 319.80 M78.97 477.50L78.97 474.50 M103.85 17.50L103.85 21.90 M103.85 317.50L103.85 314.50 M103.85 317.50L103.85 319.80 M103.85 477.50L103.85 474.50 M128.72 17.50L128.72 21.90 M128.72 317.50L128.72 314.50 M128.72 317.50L128.72 319.80 M128.72 477.50L128.72 474.50 M153.60 17.50L153.60 25.50 M153.60 317.50L153.60 309.50 M153.60 317.50L153.60 323.00 M153.60 477.50L153.60 472.50 M178.47 17.50L178.47 21.90 M178.47 317.50L178.47 314.50 M178.47 317.50L178.47 319.80 M178.47 477.50L178.47 474.50 M203.35 17.50L203.35 21.90 M203.35 317.50L203.35 314.50 M203.35 317.50L203.35 319.80 M203.35 477.50L203.35 474.50 M228.22 17.50L228.22 21.90 M228.22 317.50L228.22 314.50 M228.22 317.50L228.22 319.80 M228.22 477.50L228.22 474.50 M253.10 17.50L253.10 25.50 M253.10 317.50L253.10 309.50 M253.10 317.50L253.10 323.00 M253.10 477.50L253.10 472.50 M277.97 17.50L277.97 21.90 M277.97 317.50L277.97 314.50 M277.97 317.50L277.97 319.80 M277.97 477.50L277.97 474.50 M302.85 17.50L302.85 21.90 M302.85 317.50L302.85 314.50 M302.85 317.50L302.85 319.80 M302.85 477.50L302.85 474.50 M327.73 17.50L327.73 21.90 M327.73 317.50L327.73 314.50 M327.73 317.50L327.73 319.80 M327.73 477.50L327.73 474.50 M352.60 17.50L352.60 25.50 M352.60 317.50L352.60 309.50 M352.60 317.50L352.60 323.00 M352.60 477.50L352.60 472.50 M45.50 315.25L51.00 315.25 M371.50 315.25L365.80 315.25 M45.50 313.02L56.50 313.02 M371.50 313.02L360.50 313.02 M45.50 298.37L51.00 298.37 M371.50 298.37L365.80 298.37 M45.50 289.80L51.00 289.80 M371.50 289.80L365.80 289.80 M45.50 283.72L51.00 283.72 M371.50 283.72L365.80 283.72 M45.50 279.00L51.00 279.00 M371.50 279.00L365.80 279.00 M45.50 275.15L51.00 275.15 M371.50 275.15L365.80 275.15 M45.50 271.89L51.00 271.89 M371.50 271.89L365.80 271.89 M45.50 269.07L51.00 269.07 M371.50 269.07L365.80 269.07 M45.50 266.58L51.00 266.58 M371.50 266.58L365.80 266.58 M45.50 264.35L56.50 264.35 M371.50 264.35L360.50 264.35 M45.50 249.70L51.00 249.70 M371.50 249.70L365.80 249.70 M45.50 241.13L51.00 241.13 M371.50 241.13L365.80 241.13 M45.50 235.05L51.00 235.05 M371.50 235.05L365.80 235.05 M45.50 230.33L51.00 230.33 M371.50 230.33L365.80 230.33 M45.50 226.48L51.00 226.48 M371.50 226.48L365.80 226.48 M45.50 223.22L51.00 223.22 M371.50 223.22L365.80 223.22 M45.50 220.40L51.00 220.40 M371.50 220.40L365.80 220.40 M45.50 217.91L51.00 217.91 M371.50 217.91L365.80 217.91 M45.50 215.68L56.50 215.68 M371.50 215.68L360.50 215.68 M45.50 201.03L51.00 201.03 M371.50 201.03L365.80 201.03 M45.50 192.46L51.00 192.46 M371.50 192.46L365.80 192.46 M45.50 186.38L51.00 186.38 M371.50 186.38L365.80 186.38 M45.50 181.66L51.00 181.66 M371.50 181.66L365.80 181.66 M45.50 177.81L51.00 177.81 M371.50 177.81L365.80 177.81 M45.50 174.55L51.00 174.55 M371.50 174.55L365.80 174.55 M45.50 171.73L51.00 171.73 M371.50 171.73L365.80 171.73 M45.50 169.24L51.00 169.24 M371.50 169.24L365.80 169.24 M45.50 167.01L56.50 167.01 M371.50 167.01L360.50 167.01 M45.50 152.36L51.00 152.36 M371.50 152.36L365.80 152.36 M45.50 143.79L51.00 143.79 M371.50 143.79L365.80 143.79 M45.50 137.71L51.00 137.71 M371.50 137.71L365.80 137.71 M45.50 132.99L51.00 132.99 M371.50 132.99L365.80 132.99 M45.50 129.14L51.00 129.14 M371.50 129.14L365.80 129.14 M45.50 125.88L51.00 125.88 M371.50 125.88L365.80 125.88 M45.50 123.06L51.00 123.06 M371.50 123.06L365.80 123.06 M45.50 120.57L51.00 120.57 M371.50 120.57L365.80 120.57 M45.50 118.34L56.50 118.34 M371.50 118.34L360.50 118.34 M45.50 103.69L51.00 103.69 M371.50 103.69L365.80 103.69 M45.50 95.12L51.00 95.12 M371.50 95.12L365.80 95.12 M45.50 89.04L51.00 89.04 M371.50 89.04L365.80 89.04 M45.50 84.32L51.00 84.32 M371.50 84.32L365.80 84.32 M45.50 80.47L51.00 80.47 M371.50 80.47L365.80 80.47 M45.50 77.21L51.00 77.21 M371.50 77.21L365.80 77.21 M45.50 74.39L51.00 74.39 M371.50 74.39L365.80 74.39 M45.50 71.90L51.00 71.90 M371.50 71.90L365.80 71.90 M45.50 69.67L56.50 69.67 M371.50 69.67L360.50 69.67 M45.50 55.02L51.00 55.02 M371.50 55.02L365.80 55.02 M45.50 46.45L51.00 46.45 M371.50 46.45L365.80 46.45 M45.50 40.37L51.00 40.37 M371.50 40.37L365.80 40.37 M45.50 35.65L51.00 35.65 M371.50 35.65L365.80 35.65 M45.50 31.80L51.00 31.80 M371.50 31.80L365.80 31.80 M45.50 28.54L51.00 28.54 M371.50 28.54L365.80 28.54 M45.50 25.72L51.00 25.72 M371.50 25.72L365.80 25.72 M45.50 23.23L51.00 23.23 M371.50 23.23L365.80 23.23 M45.50 21.00L56.50 21.00 M371.50 21.00L360.50 21.00 M45.50 458.31L54.50 458.31 M371.50 458.31L364.50 458.31 M45.50 442.39L50.50 442.39 M371.50 442.39L365.50 442.39 M45.50 428.94L50.50 428.94 M371.50 428.94L365.50 428.94 M45.50 417.28L50.50 417.28 M371.50 417.28L365.50 417.28 M45.50 407.00L50.50 407.00 M371.50 407.00L365.50 407.00 M45.50 397.80L54.50 397.80 M371.50 397.80L364.50 397.80 M45.50 389.48L50.50 389.48 M371.50 389.48L365.50 389.48 M45.50 381.88L50.50 381.88 M371.50 381.88L365.50 381.88 M45.50 374.90L50.50 374.90 M371.50 374.90L365.50 374.90 M45.50 368.43L50.50 368.43 M371.50 368.43L365.50 368.43 M45.50 362.41L50.50 362.41 M371.50 362.41L365.50 362.41 M45.50 356.77L50.50 356.77 M371.50 356.77L365.50 356.77 M45.50 351.48L50.50 351.48 M371.50 351.48L365.50 351.48 M45.50 346.49L50.50 346.49 M371.50 346.49L365.50 346.49 M45.50 341.77L50.50 341.77 M371.50 341.77L365.50 341.77 M45.50 337.29L54.50 337.29 M371.50 337.29L364.50 337.29 M45.50 333.03L50.50 333.03 M371.50 333.03L365.50 333.03 M45.50 328.97L50.50 328.97 M371.50 328.97L365.50 328.97 M45.50 325.09L50.50 325.09 M371.50 325.09L365.50 325.09 M45.50 321.38L50.50 321.38 M371.50 321.38L365.50 321.38 M45.50 317.81L50.50 317.81 M371.50 317.81L365.50 317.81" stroke="#000" stroke-width="1" fill="none"/>
<rect x="73.45" y="240.55" width="5.70" height="5.70" fill="#000"/>
<line x1="64.3" y1="256.4" x2="88.7" y2="256.4" stroke="#0000ff" stroke-width="1.1"/>
<path d="M75.95 253.70L76.65 253.70L79.20 259.30L73.40 259.30Z" fill="#0000ff"/>
<line x1="64.3" y1="269.4" x2="88.7" y2="269.4" stroke="#ff0000" stroke-width="1.2" stroke-dasharray="1.2 1.3"/>
<path d="M76.30 266.20L78.65 269.40L76.30 272.60L73.95 269.40Z" fill="#ff0000"/>
<text x="50.90" y="13.80" font-size="12.40" text-anchor="start" fill="#000" font-family="Liberation Sans, sans-serif" >2360 GeV pp</text>
<text x="367.20" y="13.80" font-size="12.40" text-anchor="end" fill="#000" font-family="Liberation Sans, sans-serif" >Soft QCD</text>
<text x="94.20" y="247.00" font-size="9.30" text-anchor="start" fill="#000" font-family="Liberation Sans, sans-serif" >ALICE</text>
<text x="94.20" y="259.00" font-size="9.30" text-anchor="start" fill="#000" font-family="Liberation Sans, sans-serif" letter-spacing="0.13">Pythia 8.315 default</text>
<text x="94.20" y="271.50" font-size="9.30" text-anchor="start" fill="#000" font-family="Liberation Sans, sans-serif" letter-spacing="0.08">Sherpa 2.2.9 default</text>
<text x="166.80" y="302.20" font-size="7.95" text-anchor="start" fill="#999" font-family="Liberation Sans, sans-serif" >(ALICE_2010_I852450)</text>
<text x="80.80" y="43.00" font-size="12.20" text-anchor="start" fill="#000" font-family="Liberation Sans, sans-serif" >Charged multiplicity,</text>
<text x="192.95" y="43.00" font-size="12.20" text-anchor="start" fill="#000" font-family="Liberation Sans, sans-serif" >|</text>
<text x="193.60" y="43.00" font-size="12.20" text-anchor="start" fill="#000" font-family="Liberation Sans, sans-serif" >η</text>
<text x="199.85" y="43.00" font-size="12.20" text-anchor="start" fill="#000" font-family="Liberation Sans, sans-serif" >|&lt;1.3 ,</text>
<path d="M233.6 39.6L235.2 43.6L236.7 33.4L243.8 33.4" fill="none" stroke="#000" stroke-width="0.9"/>
<text x="237.30" y="43.00" font-size="12.20" text-anchor="start" fill="#000" font-family="Liberation Sans, sans-serif" >s=2.36 TeV (INEL)</text>
<text x="40.00" y="24.90" font-size="11.00" text-anchor="end" fill="#000" font-family="Liberation Sans, sans-serif" >10</text>
<text x="40.00" y="73.57" font-size="11.00" text-anchor="end" fill="#000" font-family="Liberation Sans, sans-serif" >1</text>
<text x="33.30" y="123.64" font-size="11" text-anchor="end" font-family="Liberation Sans, sans-serif">10</text>
<text x="32.90" y="118.94" font-size="7.5" font-family="Liberation Sans, sans-serif">−1</text>
<text x="31.60" y="172.31" font-size="11" text-anchor="end" font-family="Liberation Sans, sans-serif">10</text>
<text x="31.20" y="167.61" font-size="7.5" font-family="Liberation Sans, sans-serif">−2</text>
<text x="31.60" y="220.98" font-size="11" text-anchor="end" font-family="Liberation Sans, sans-serif">10</text>
<text x="31.20" y="216.28" font-size="7.5" font-family="Liberation Sans, sans-serif">−3</text>
<text x="31.60" y="269.65" font-size="11" text-anchor="end" font-family="Liberation Sans, sans-serif">10</text>
<text x="31.20" y="264.95" font-size="7.5" font-family="Liberation Sans, sans-serif">−4</text>
<text x="31.60" y="318.32" font-size="11" text-anchor="end" font-family="Liberation Sans, sans-serif">10</text>
<text x="31.20" y="313.62" font-size="7.5" font-family="Liberation Sans, sans-serif">−5</text>
<text x="38.50" y="341.19" font-size="11.00" text-anchor="end" fill="#000" font-family="Liberation Sans, sans-serif" >2</text>
<text x="374.00" y="341.19" font-size="11.00" text-anchor="start" fill="#000" font-family="Liberation Sans, sans-serif" >2</text>
<text x="38.50" y="401.70" font-size="11.00" text-anchor="end" fill="#000" font-family="Liberation Sans, sans-serif" >1</text>
<text x="374.00" y="401.70" font-size="11.00" text-anchor="start" fill="#000" font-family="Liberation Sans, sans-serif" >1</text>
<text x="21.40" y="462.41" font-size="11.50" text-anchor="start" fill="#000" font-family="Liberation Sans, sans-serif" letter-spacing="0.45">0.5</text>
<text x="374.00" y="462.21" font-size="11.00" text-anchor="start" fill="#000" font-family="Liberation Sans, sans-serif" >0.5</text>
<text x="54.10" y="488.60" font-size="11.00" text-anchor="middle" fill="#000" font-family="Liberation Sans, sans-serif" >0</text>
<text x="153.60" y="488.60" font-size="11.00" text-anchor="middle" fill="#000" font-family="Liberation Sans, sans-serif" >20</text>
<text x="253.10" y="488.60" font-size="11.00" text-anchor="middle" fill="#000" font-family="Liberation Sans, sans-serif" >40</text>
<text x="352.60" y="488.60" font-size="11.00" text-anchor="middle" fill="#000" font-family="Liberation Sans, sans-serif" >60</text>
<text x="354.50" y="502.80" font-size="12.00" text-anchor="start" fill="#000" font-family="Liberation Sans, sans-serif" >N</text>
<text x="363.00" y="506.80" font-size="8.50" text-anchor="start" fill="#000" font-family="Liberation Sans, sans-serif" >ch</text>
<text transform="translate(14.8,59.2) rotate(-90)" font-size="12" font-family="Liberation Sans, sans-serif">dN/dN</text>
<text transform="translate(19.6,25.2) rotate(-90)" font-size="8.6" letter-spacing="-2.6" font-family="Liberation Sans, sans-serif">ch</text>
<text transform="translate(18.9,426.4) rotate(-90)" font-size="9" font-family="Liberation Sans, sans-serif">Ratio to ALICE</text>
<text transform="translate(380.0,127.8) rotate(-90)" font-size="9.5" fill="#707070" font-family="Liberation Sans, sans-serif">Rivet 4.1.0, ≥ 1.8M events</text>
<text transform="translate(380.3,314.0) rotate(-90)" font-size="9.5" fill="#707070" font-family="Liberation Sans, sans-serif">mcplots.cern.ch [arXiv:1306.3436]</text>
</svg>
</body></html>
